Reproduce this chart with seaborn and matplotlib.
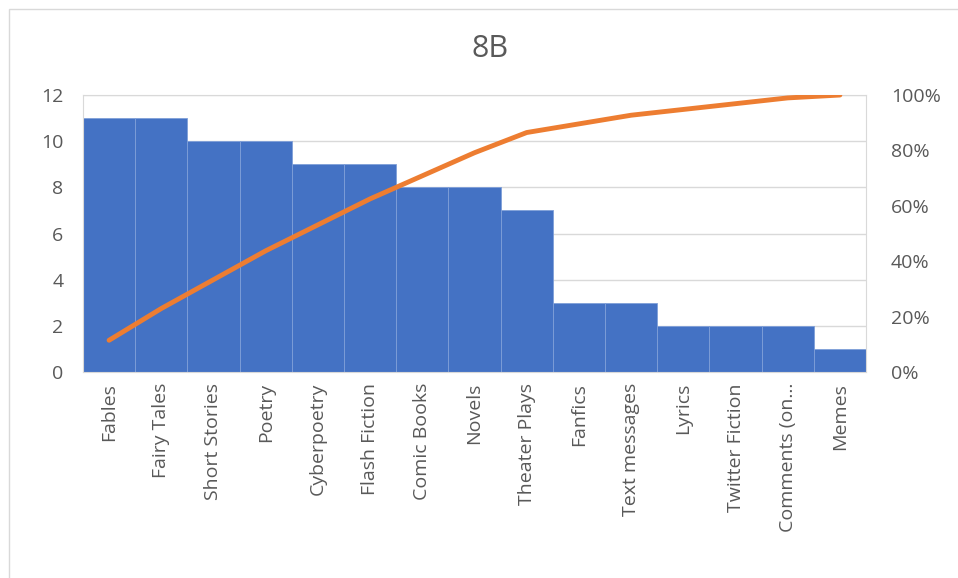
import matplotlib.pyplot as plt
import seaborn as sns
import numpy as np
from matplotlib.patches import Rectangle
from matplotlib.ticker import FuncFormatter

categories = ["Fables", "Fairy Tales", "Short Stories", "Poetry", "Cyberpoetry",
              "Flash Fiction", "Comic Books", "Novels", "Theater Plays", "Fanfics",
              "Text messages", "Lyrics", "Twitter Fiction", "Comments (on...", "Memes"]
counts = [11, 11, 10, 10, 9, 9, 8, 8, 7, 3, 3, 2, 2, 2, 1]
cum_pct = np.cumsum(counts) / np.sum(counts) * 100

sns.set_style("white")
plt.rcParams["font.family"] = ["Open Sans", "DejaVu Sans"]

text_col = "#595959"
grid_col = "#d9d9d9"

fig = plt.figure(figsize=(9.58, 5.78), dpi=100)
ax = fig.add_axes([0.0866, 0.3564, 0.8174, 0.4792])

# outer chart border
fig.patches.append(Rectangle((9 / 958, -0.01), 1.0, 1 - 9 / 578 + 0.01,
                             transform=fig.transFigure, fill=False,
                             edgecolor="#d9d9d9", linewidth=1))

sns.barplot(x=categories, y=counts, color="#4472C4", saturation=1, width=1.0,
            edgecolor="#7f9fd8", linewidth=0.6, ax=ax, zorder=2)
ax.set_ylim(0, 12)
ax.set_yticks(range(0, 13, 2))
ax.set_xlim(-0.5, len(categories) - 0.5)
ax.yaxis.grid(True, color=grid_col, linewidth=1, zorder=0)
ax.set_axisbelow(True)
ax.tick_params(axis="y", labelsize=14, labelcolor=text_col, length=0, pad=14)
ax.tick_params(axis="x", labelsize=14, labelcolor=text_col, length=0, pad=8,
               rotation=90)
for s in ax.spines.values():
    s.set_color(grid_col)
ax.set_xlabel("")
ax.set_ylabel("")

ax2 = ax.twinx()
sns.lineplot(x=np.arange(len(categories)), y=cum_pct, sort=False,
             color="#ED7D31", linewidth=3.5, ax=ax2, zorder=3)
ax2.set_ylim(0, 100)
ax2.set_yticks(range(0, 101, 20))
ax2.yaxis.set_major_formatter(FuncFormatter(lambda v, p: f"{v:.0f}%"))
ax2.tick_params(axis="y", labelsize=14, labelcolor=text_col, length=0, pad=18)
for s in ax2.spines.values():
    s.set_visible(False)
ax2.set_ylabel("")

fig.text(0.512, 0.915, "8B", ha="center", va="center", fontsize=22,
         color=text_col)

fig.savefig("out.png", dpi=100, facecolor="white")
